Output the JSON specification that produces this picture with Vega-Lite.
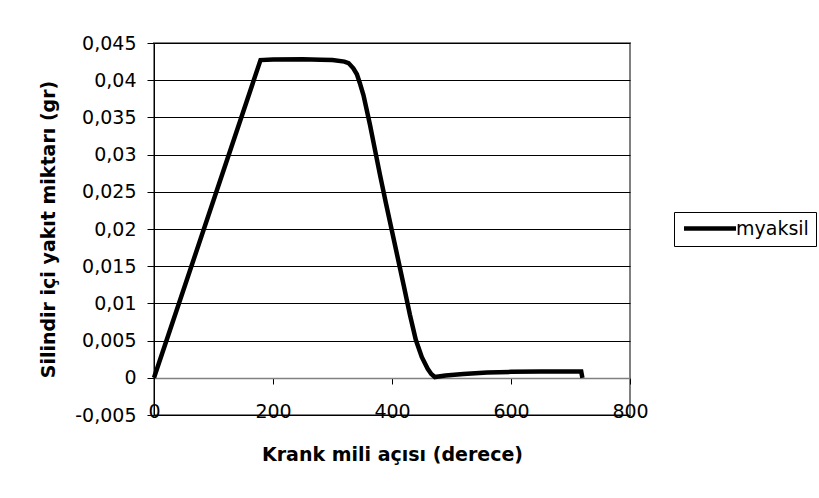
{
  "$schema": "https://vega.github.io/schema/vega-lite/v6.json",
  "width": 476,
  "height": 372,
  "autosize": "none",
  "padding": {"left": 154, "top": 43, "right": 189, "bottom": 83},
  "background": "white",
  "config": {
    "view": {"stroke": "#808080", "strokeWidth": 2},
    "font": "DejaVu Sans"
  },
  "data": {
    "values": [
      {"aci": 0, "yakit": 0, "seri": "myaksil"},
      {"aci": 179, "yakit": 0.0427, "seri": "myaksil"},
      {"aci": 200, "yakit": 0.04278, "seri": "myaksil"},
      {"aci": 250, "yakit": 0.0428, "seri": "myaksil"},
      {"aci": 280, "yakit": 0.04275, "seri": "myaksil"},
      {"aci": 300, "yakit": 0.0427, "seri": "myaksil"},
      {"aci": 320, "yakit": 0.0425, "seri": "myaksil"},
      {"aci": 327, "yakit": 0.0423, "seri": "myaksil"},
      {"aci": 335, "yakit": 0.0416, "seri": "myaksil"},
      {"aci": 341, "yakit": 0.0408, "seri": "myaksil"},
      {"aci": 346, "yakit": 0.0396, "seri": "myaksil"},
      {"aci": 352, "yakit": 0.038, "seri": "myaksil"},
      {"aci": 363, "yakit": 0.034, "seri": "myaksil"},
      {"aci": 371, "yakit": 0.0308, "seri": "myaksil"},
      {"aci": 380, "yakit": 0.0272, "seri": "myaksil"},
      {"aci": 390, "yakit": 0.0234, "seri": "myaksil"},
      {"aci": 400, "yakit": 0.0197, "seri": "myaksil"},
      {"aci": 410, "yakit": 0.016, "seri": "myaksil"},
      {"aci": 420, "yakit": 0.0123, "seri": "myaksil"},
      {"aci": 430, "yakit": 0.0085, "seri": "myaksil"},
      {"aci": 440, "yakit": 0.0051, "seri": "myaksil"},
      {"aci": 450, "yakit": 0.0028, "seri": "myaksil"},
      {"aci": 460, "yakit": 0.0012, "seri": "myaksil"},
      {"aci": 466, "yakit": 0.0005, "seri": "myaksil"},
      {"aci": 472, "yakit": 0.0001, "seri": "myaksil"},
      {"aci": 490, "yakit": 0.0003, "seri": "myaksil"},
      {"aci": 520, "yakit": 0.0005, "seri": "myaksil"},
      {"aci": 560, "yakit": 0.0007, "seri": "myaksil"},
      {"aci": 600, "yakit": 0.0008, "seri": "myaksil"},
      {"aci": 650, "yakit": 0.00085, "seri": "myaksil"},
      {"aci": 700, "yakit": 0.00085, "seri": "myaksil"},
      {"aci": 718, "yakit": 0.00085, "seri": "myaksil"},
      {"aci": 720, "yakit": 0, "seri": "myaksil"}
    ]
  },
  "mark": {"type": "line", "strokeWidth": 4.5, "clip": false},
  "encoding": {
    "x": {
      "field": "aci",
      "type": "quantitative",
      "scale": {"domain": [0, 800], "nice": false},
      "axis": {
        "title": "Krank mili açısı (derece)",
        "values": [0, 200, 400, 600, 800],
        "offset": -37,
        "grid": false,
        "domain": true,
        "domainColor": "#808080",
        "domainWidth": 1.5,
        "ticks": true,
        "tickColor": "#000",
        "tickSize": 6,
        "labelPadding": 27,
        "labelBaseline": "middle",
        "labelFlush": false,
        "labelOverlap": false,
        "labelFont": "DejaVu Sans",
        "labelFontSize": 19,
        "labelColor": "#000",
        "labelExpr": "format(datum.value, 'd')",
        "titleFont": "DejaVu Sans",
        "titleFontSize": 19,
        "titleFontWeight": "bold",
        "titleColor": "#000",
        "titlePadding": 24
      }
    },
    "y": {
      "field": "yakit",
      "type": "quantitative",
      "scale": {"domain": [-0.005, 0.045], "nice": false, "zero": false},
      "axis": {
        "title": "Silindir içi yakıt miktarı (gr)",
        "values": [-0.005, 0, 0.005, 0.01, 0.015, 0.02, 0.025, 0.03, 0.035, 0.04, 0.045],
        "grid": true,
        "gridColor": "#000",
        "gridWidth": 1,
        "gridOpacity": 1,
        "domain": true,
        "domainColor": "#000",
        "domainWidth": 1,
        "ticks": true,
        "tickColor": "#000",
        "tickSize": 7,
        "labelPadding": 11,
        "labelFlush": false,
        "labelOverlap": false,
        "labelFont": "DejaVu Sans",
        "labelFontSize": 19,
        "labelColor": "#000",
        "labelExpr": "replace(replace(format(datum.value, '.3~f'), '.', ','), '\u2212', '-')",
        "titleFont": "DejaVu Sans",
        "titleFontSize": 19,
        "titleFontWeight": "bold",
        "titleColor": "#000",
        "titlePadding": 16
      }
    },
    "color": {
      "field": "seri",
      "type": "nominal",
      "scale": {"range": ["#000000"]},
      "legend": {
        "title": null,
        "orient": "none",
        "legendX": 520,
        "legendY": 169,
        "strokeColor": "#000",
        "fillColor": "#fff",
        "padding": 7,
        "symbolType": "M-1,0H7",
        "symbolSize": 169,
        "symbolStrokeWidth": 4.5,
        "symbolStrokeColor": "#000",
        "labelOffset": 36,
        "labelFont": "DejaVu Sans",
        "labelFontSize": 19,
        "labelColor": "#000"
      }
    }
  }
}
